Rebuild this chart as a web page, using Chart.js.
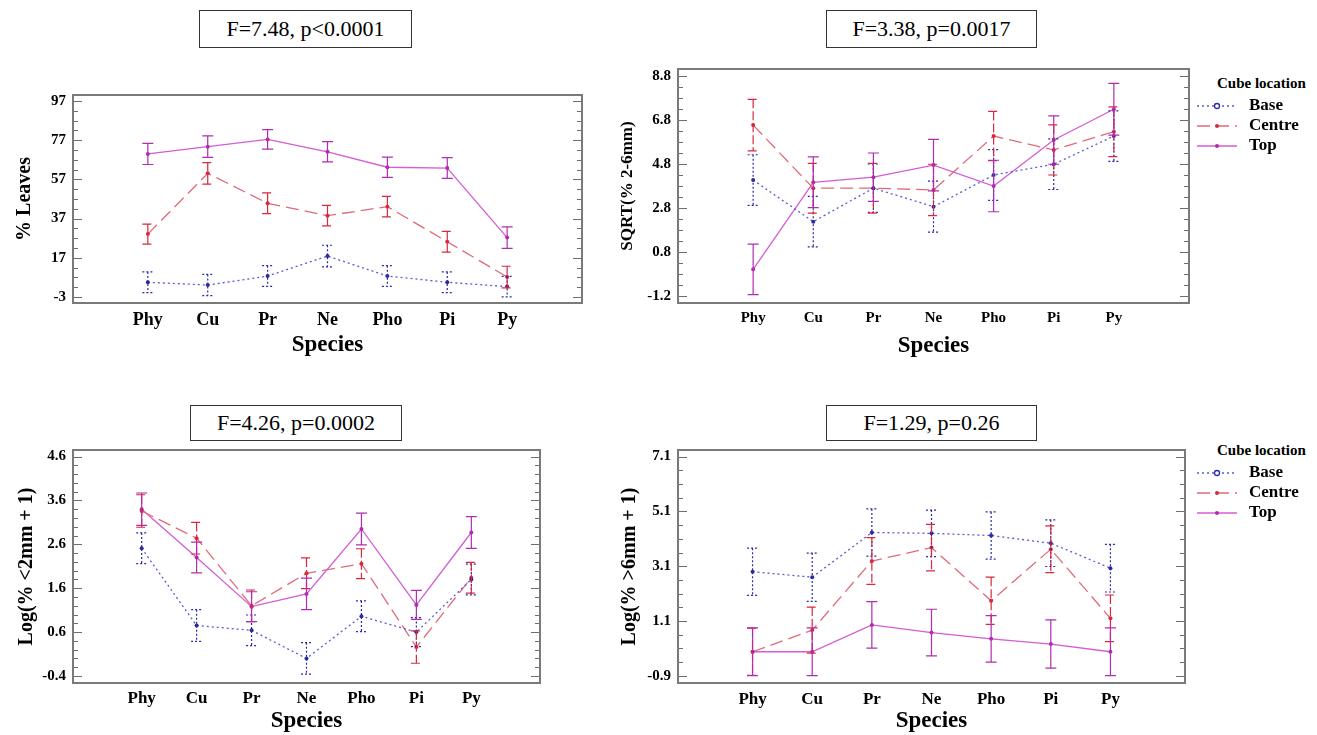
<!DOCTYPE html>
<html lang="en">
<head>
<meta charset="UTF-8">
<title>Cube location by species</title>
<script src="https://cdn.jsdelivr.net/npm/chart.js"></script>
<style>
    body {
        margin: 0;
        width: 1317px;
        height: 735px;
        overflow: hidden;
        position: relative;
        background: #fff;
        font-family: "Liberation Serif", "Times New Roman", serif;
        color: #000;
    }
    canvas {
        position: absolute;
    }
    .stat {
        position: absolute;
        box-sizing: border-box;
        border: 1.5px solid #333;
        background: #fff;
        font-size: 22px;
        text-align: center;
    }
    .legend {
        position: absolute;
        left: 1190px;
        font-weight: bold;
        font-size: 15px;
        z-index: 2;
        white-space: nowrap;
    }
    .legend .title {
        position: absolute;
        left: 27px;
        top: 0;
    }
    .legend .row {
        position: absolute;
        left: 6px;
        height: 20px;
        line-height: 20px;
        font-size: 17px;
    }
    .legend svg {
        vertical-align: middle;
        margin-right: 11px;
    }
</style>
</head>
<body>
    <div class="stat" style="left:199px;top:10px;width:213px;height:38px;line-height:35px">F=7.48, p&lt;0.0001</div>
    <div class="stat" style="left:826px;top:10px;width:211px;height:38px;line-height:35px">F=3.38, p=0.0017</div>
    <div class="stat" style="left:190px;top:405px;width:212px;height:36px;line-height:33px">F=4.26, p=0.0002</div>
    <div class="stat" style="left:826px;top:405px;width:211px;height:36px;line-height:33px">F=1.29, p=0.26</div>

    <canvas id="c1" width="600" height="280" style="left:0px;top:85px"></canvas>
    <canvas id="c2" width="610" height="300" style="left:600px;top:60px"></canvas>
    <canvas id="c3" width="560" height="295" style="left:0px;top:440px"></canvas>
    <canvas id="c4" width="600" height="295" style="left:600px;top:440px"></canvas>

    <div class="legend" id="leg2" style="top:75px"></div>
    <div class="legend" id="leg4" style="top:442px"></div>

<script>
    // --- data ---
    const species = ["Phy", "Cu", "Pr", "Ne", "Pho", "Pi", "Py"];
    const locations = ["Base", "Centre", "Top"];

    // % Leaves
    const leavesTicks = [-3, 17, 37, 57, 77, 97];
    const leavesBase = [4.5, 3.1, 7.7, 17.9, 7.7, 4.5, 2.3];
    const leavesBaseErr = [5.3, 5.4, 5.3, 5.5, 5.3, 5.3, 5.2];
    const leavesCentre = [29.1, 60.1, 44.8, 38.5, 43.1, 25.2, 7.2];
    const leavesCentreErr = [5.1, 5.5, 5.3, 5.2, 5.2, 5.3, 5.5];
    const leavesTop = [70.0, 73.7, 77.4, 71.1, 63.2, 62.8, 27.3];
    const leavesTopErr = [5.4, 5.5, 5.0, 5.2, 5.2, 5.3, 5.5];

    // SQRT(% 2-6mm)
    const midTicks = [-1.2, 0.8, 2.8, 4.8, 6.8, 8.8];
    const midBase = [4.07, 2.18, 3.7, 2.86, 4.3, 4.79, 6.07];
    const midBaseErr = [1.15, 1.15, 1.1, 1.16, 1.15, 1.15, 1.15];
    const midCentre = [6.57, 3.7, 3.7, 3.62, 6.07, 5.44, 6.27];
    const midCentreErr = [1.17, 1.13, 1.13, 1.17, 1.12, 1.14, 1.13];
    const midTop = [0.01, 3.97, 4.2, 4.75, 3.8, 5.89, 7.29];
    const midTopErr = [1.15, 1.15, 1.1, 1.17, 1.17, 1.1, 1.18];

    // Log(% <2mm + 1)
    const fineTicks = [-0.4, 0.6, 1.6, 2.6, 3.6, 4.6];
    const fineBase = [2.51, 0.75, 0.64, 0.0, 0.96, 0.6, 1.8];
    const fineBaseErr = [0.35, 0.36, 0.35, 0.36, 0.35, 0.33, 0.35];
    const fineCentre = [3.36, 2.74, 1.2, 1.94, 2.16, 0.26, 1.84];
    const fineCentreErr = [0.37, 0.36, 0.36, 0.35, 0.34, 0.37, 0.35];
    const fineTop = [3.4, 2.3, 1.18, 1.47, 2.95, 1.22, 2.87];
    const fineTopErr = [0.37, 0.35, 0.34, 0.36, 0.36, 0.33, 0.36];

    // Log(% >6mm + 1)
    const coarseTicks = [-0.9, 1.1, 3.1, 5.1, 7.1];
    const coarseBase = [2.9, 2.7, 4.33, 4.3, 4.22, 3.94, 3.03];
    const coarseBaseErr = [0.86, 0.88, 0.86, 0.85, 0.86, 0.85, 0.87];
    const coarseCentre = [-0.02, 0.77, 3.29, 3.78, 1.84, 3.72, 1.2];
    const coarseCentreErr = [0.86, 0.84, 0.85, 0.85, 0.86, 0.85, 0.85];
    const coarseTop = [-0.02, -0.02, 0.96, 0.68, 0.45, 0.26, -0.02];
    const coarseTopErr = [0.87, 0.87, 0.85, 0.85, 0.85, 0.88, 0.87];

    // --- styling ---
    const serif = "'Liberation Serif', 'Times New Roman', serif";
    const styles = {
        Base:   { line: "#5a5ad2", point: "#2a2aa8", dash: [2, 3], errDash: [2, 2] },
        Centre: { line: "#e26a78", point: "#d8283c", dash: [13, 6], errDash: [9, 3] },
        Top:    { line: "#d45cd4", point: "#b02cb0", dash: [], errDash: [] }
    };

    // frame, inward tick marks and error bars
    const decor = {
        id: "decor",
        afterDatasetsDraw(chart) {
            const { ctx, scales: { x, y } } = chart;
            ctx.save();
            chart.data.datasets.forEach(ds => {
                const st = styles[ds.label];
                ctx.strokeStyle = st.point;
                ctx.lineWidth = 1.2;
                ctx.setLineDash(st.errDash);
                ds.data.forEach((pt, i) => {
                    const e = ds.err[i];
                    const px = x.getPixelForValue(pt.x);
                    const hi = y.getPixelForValue(pt.y + e);
                    const lo = y.getPixelForValue(pt.y - e);
                    ctx.beginPath();
                    ctx.moveTo(px, hi); ctx.lineTo(px, lo);
                    ctx.moveTo(px - 5.5, hi); ctx.lineTo(px + 5.5, hi);
                    ctx.moveTo(px - 5.5, lo); ctx.lineTo(px + 5.5, lo);
                    ctx.stroke();
                });
            });
            ctx.restore();
        },
        afterDraw(chart, args, opts) {
            const { ctx, chartArea: a, scales: { y } } = chart;
            ctx.save();
            ctx.strokeStyle = "#6e6e6e";
            ctx.lineWidth = 1;
            const t0 = y.ticks[0].value;
            const step = opts.minorStep;
            const nMin = Math.ceil((y.min - t0) / step);
            const nMax = Math.floor((y.max - t0) / step);
            const majorEvery = opts.majorStep / step;
            ctx.beginPath();
            for (let n = nMin; n <= nMax; n++) {
                const py = Math.round(y.getPixelForValue(t0 + n * step)) + 0.5;
                const len = n % majorEvery === 0 ? 9 : 5;
                ctx.moveTo(a.left, py); ctx.lineTo(a.left + len, py);
                ctx.moveTo(a.right, py); ctx.lineTo(a.right - len, py);
            }
            ctx.stroke();
            ctx.strokeStyle = "#7a7a7a";
            ctx.lineWidth = 2;
            ctx.strokeRect(a.left, a.top, a.right - a.left, a.bottom - a.top);
            ctx.restore();
        }
    };

    function makePanel(id, p) {
        const datasets = locations.map((loc, k) => ({
            label: loc,
            data: p.series[k].map((v, i) => ({ x: i, y: v })),
            err: p.errors[k],
            borderColor: styles[loc].line,
            borderDash: styles[loc].dash,
            borderWidth: 1.3,
            pointRadius: 2,
            pointBackgroundColor: styles[loc].point,
            pointBorderColor: styles[loc].point,
            pointBorderWidth: 0,
            tension: 0,
            fill: false
        }));

        return new Chart(document.getElementById(id), {
            type: "line",
            data: { datasets },
            options: {
                responsive: false,
                animation: false,
                layout: { padding: { top: p.padTop, right: p.padRight, left: 0, bottom: 0 } },
                plugins: {
                    legend: { display: false },
                    tooltip: { enabled: false },
                    decor: { minorStep: p.minorStep, majorStep: p.majorStep }
                },
                scales: {
                    x: {
                        type: "linear",
                        min: -1.25,
                        max: species.length - 1 + 1.25,
                        grid: { display: false, drawTicks: false },
                        border: { display: false },
                        afterBuildTicks: s => { s.ticks = species.map((_, i) => ({ value: i })); },
                        afterFit: s => { s.height = p.xAxisH; s.paddingLeft = 0; s.paddingRight = 0; },
                        ticks: {
                            callback: v => species[v],
                            autoSkip: false,
                            maxRotation: 0,
                            padding: p.catPad,
                            color: "#000",
                            font: { family: serif, weight: "bold", size: p.catSize }
                        },
                        title: {
                            display: true,
                            text: "Species",
                            color: "#000",
                            padding: { top: 0, bottom: p.xTitlePad },
                            font: { family: serif, weight: "bold", size: 23 }
                        }
                    },
                    y: {
                        min: p.yMin,
                        max: p.yMax,
                        grid: { display: false, drawTicks: false },
                        border: { display: false },
                        afterBuildTicks: s => { s.ticks = p.yTicks.map(v => ({ value: v })); },
                        afterFit: s => { s.width = p.yAxisW; s.paddingTop = 0; s.paddingBottom = 0; },
                        ticks: {
                            callback: v => String(v),
                            autoSkip: false,
                            padding: 7,
                            color: "#000",
                            font: { family: serif, weight: "bold", size: 15 }
                        },
                        title: {
                            display: true,
                            text: p.yTitle,
                            color: "#000",
                            padding: { top: p.yTitlePad, bottom: 0 },
                            font: { family: serif, weight: "bold", size: p.yTitleSize }
                        }
                    }
                }
            },
            plugins: [decor]
        });
    }

    makePanel("c1", {
        yTitle: "% Leaves", yTicks: leavesTicks, yMin: -6.06, yMax: 100.06, majorStep: 20, minorStep: 5,
        series: [leavesBase, leavesCentre, leavesTop], errors: [leavesBaseErr, leavesCentreErr, leavesTopErr],
        padTop: 10, padRight: 18, yAxisW: 73, xAxisH: 62,
        yTitlePad: 13, yTitleSize: 20, catSize: 18, catPad: 7, xTitlePad: 6
    });
    makePanel("c2", {
        yTitle: "SQRT(% 2-6mm)", yTicks: midTicks, yMin: -1.52, yMax: 9.12, majorStep: 2, minorStep: 0.5,
        series: [midBase, midCentre, midTop], errors: [midBaseErr, midCentreErr, midTopErr],
        padTop: 9, padRight: 21, yAxisW: 78, xAxisH: 57,
        yTitlePad: 17, yTitleSize: 17, catSize: 15, catPad: 6, xTitlePad: 0
    });
    makePanel("c3", {
        yTitle: "Log(% <2mm + 1)", yTicks: fineTicks, yMin: -0.56, yMax: 4.75, majorStep: 1, minorStep: 0.2,
        series: [fineBase, fineCentre, fineTop], errors: [fineBaseErr, fineCentreErr, fineTopErr],
        padTop: 10, padRight: 20, yAxisW: 73, xAxisH: 52,
        yTitlePad: 15, yTitleSize: 20, catSize: 17, catPad: 5, xTitlePad: 0
    });
    makePanel("c4", {
        yTitle: "Log(% >6mm + 1)", yTicks: coarseTicks, yMin: -1.16, yMax: 7.34, majorStep: 2, minorStep: 0.5,
        series: [coarseBase, coarseCentre, coarseTop], errors: [coarseBaseErr, coarseCentreErr, coarseTopErr],
        padTop: 10, padRight: 15, yAxisW: 78, xAxisH: 52,
        yTitlePad: 18, yTitleSize: 20, catSize: 17, catPad: 6, xTitlePad: 0
    });

    // legends ("Cube location")
    function buildLegend(id) {
        const box = document.getElementById(id);
        let html = '<div class="title">Cube location</div>';
        locations.forEach((loc, k) => {
            const st = styles[loc];
            const marker = loc === "Base"
                ? `<circle cx="21" cy="6" r="2.5" fill="#fff" stroke="${st.point}" stroke-width="1.3"/>`
                : `<circle cx="21" cy="6" r="2" fill="${st.point}"/>`;
            html += `<div class="row" style="top:${20 + k * 20}px">` +
                `<svg width="42" height="12"><line x1="1" y1="6" x2="41" y2="6" stroke="${st.line}" stroke-width="1.4" stroke-dasharray="${st.dash.join(",")}"/>${marker}</svg>` +
                `${loc}</div>`;
        });
        box.innerHTML = html;
    }
    buildLegend("leg2");
    buildLegend("leg4");
</script>
</body>
</html>
